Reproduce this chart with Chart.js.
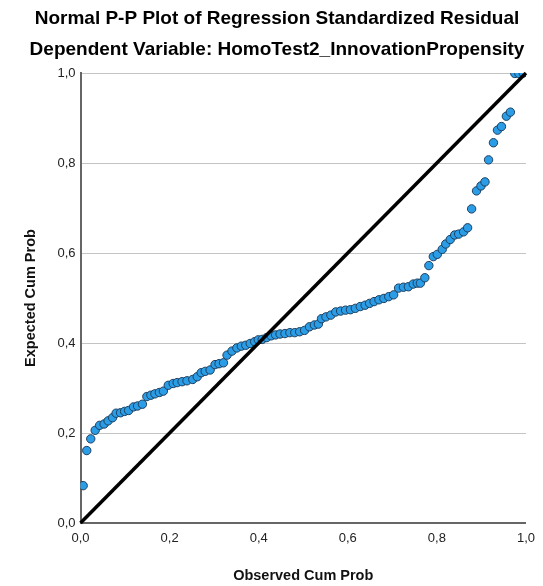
<!DOCTYPE html>
<html>
<head>
<meta charset="utf-8">
<script src="https://cdn.jsdelivr.net/npm/chart.js@4.4.1/dist/chart.umd.min.js"></script>
<style>
  html, body { margin: 0; padding: 0; background: #ffffff; }
  #wrap { position: relative; width: 543px; height: 586px; }
</style>
</head>
<body>
<div id="wrap"><canvas id="c" width="543" height="586"></canvas></div>
<script>
// ---- data ----
const chartTitle = "Normal P-P Plot of Regression Standardized Residual";
const chartSubtitle = "Dependent Variable: HomoTest2_InnovationPropensity";
const xAxisTitle = "Observed Cum Prob";
const yAxisTitle = "Expected Cum Prob";
const tickValues = [0, 0.2, 0.4, 0.6, 0.8, 1.0];
const tickLabels = ["0,0", "0,2", "0,4", "0,6", "0,8", "1,0"];

const observedCumProb = [
  0.006, 0.014, 0.023, 0.033, 0.043, 0.053, 0.062, 0.072, 0.080, 0.090,
  0.099, 0.108, 0.119, 0.128, 0.139, 0.149, 0.158, 0.167, 0.177, 0.186,
  0.197, 0.208, 0.217, 0.228, 0.239, 0.252, 0.262, 0.271, 0.280, 0.291,
  0.302, 0.311, 0.321, 0.329, 0.340, 0.351, 0.361, 0.371, 0.381, 0.391,
  0.399, 0.408, 0.418, 0.428, 0.438, 0.448, 0.459, 0.470, 0.481, 0.492,
  0.503, 0.514, 0.525, 0.534, 0.541, 0.551, 0.562, 0.573, 0.584, 0.595,
  0.606, 0.617, 0.628, 0.639, 0.649, 0.659, 0.670, 0.681, 0.692, 0.703,
  0.714, 0.725, 0.736, 0.747, 0.756, 0.763, 0.773, 0.782, 0.792, 0.801,
  0.812, 0.820, 0.830, 0.840, 0.849, 0.860, 0.869, 0.878, 0.889, 0.899,
  0.908, 0.916, 0.927, 0.936, 0.945, 0.956, 0.965, 0.975, 0.984, 0.994
];
const expectedCumProb = [
  0.083, 0.161, 0.187, 0.206, 0.217, 0.220, 0.227, 0.234, 0.244, 0.245,
  0.248, 0.250, 0.258, 0.260, 0.264, 0.281, 0.284, 0.287, 0.290, 0.293,
  0.306, 0.310, 0.312, 0.314, 0.316, 0.319, 0.325, 0.334, 0.337, 0.340,
  0.352, 0.354, 0.356, 0.373, 0.382, 0.389, 0.393, 0.395, 0.399, 0.403,
  0.407, 0.408, 0.412, 0.416, 0.418, 0.420, 0.421, 0.423, 0.423, 0.425,
  0.428, 0.436, 0.440, 0.442, 0.454, 0.458, 0.462, 0.469, 0.471, 0.473,
  0.474, 0.477, 0.481, 0.484, 0.488, 0.492, 0.496, 0.499, 0.503, 0.507,
  0.522, 0.524, 0.525, 0.531, 0.533, 0.533, 0.545, 0.572, 0.592, 0.597,
  0.608, 0.620, 0.630, 0.640, 0.642, 0.647, 0.656, 0.698, 0.738, 0.749,
  0.758, 0.807, 0.845, 0.873, 0.881, 0.904, 0.913, 0.999, 0.999, 1.000
];
const referenceLineX = [0, 1];
const referenceLineY = [0, 1];

// ---- build chart ----
const FONT = "'Liberation Sans', Arial, sans-serif";
const points = observedCumProb.map((x, i) => ({ x: x, y: expectedCumProb[i] }));
const refLine = referenceLineX.map((x, i) => ({ x: x, y: referenceLineY[i] }));

const titlePlugin = {
  id: 'twoLineTitle',
  afterDraw(chart) {
    const ctx = chart.ctx;
    ctx.save();
    ctx.fillStyle = '#000000';
    ctx.textAlign = 'center';
    ctx.textBaseline = 'middle';
    ctx.font = "bold 19px " + FONT;
    ctx.fillText(chartTitle, 277, 19);
    ctx.fillText(chartSubtitle, 277, 50);
    ctx.restore();
  }
};

new Chart(document.getElementById('c'), {
  type: 'scatter',
  data: {
    datasets: [
      {
        type: 'line',
        data: refLine,
        borderColor: '#000000',
        borderWidth: 3.5,
        pointRadius: 0,
        fill: false,
        order: 0,
        clip: 2
      },
      {
        data: points,
        backgroundColor: '#2b9de6',
        borderColor: '#1d3f5f',
        borderWidth: 1,
        pointRadius: 4.2,
        pointHoverRadius: 4.2,
        order: 1,
        clip: 0
      }
    ]
  },
  options: {
    responsive: false,
    animation: false,
    devicePixelRatio: 1,
    layout: { padding: { left: 0, right: 12.5, top: 73, bottom: 0 } },
    plugins: {
      legend: { display: false },
      tooltip: { enabled: false },
      title: { display: false }
    },
    scales: {
      x: {
        type: 'linear',
        min: 0, max: 1,
        afterBuildTicks(scale) { scale.ticks = tickValues.map(v => ({ value: v })); },
        afterFit(scale) { scale.height = 63; },
        ticks: {
          padding: 8,
          color: '#222222',
          font: { family: FONT, size: 13 },
          maxRotation: 0,
          callback: (v) => tickLabels[tickValues.findIndex(t => Math.abs(t - v) < 1e-9)]
        },
        grid: { display: false, drawTicks: false },
        border: { display: true, color: '#666666', width: 2 },
        title: {
          display: true,
          text: xAxisTitle,
          color: '#111111',
          font: { family: FONT, size: 14.5, weight: 'bold' },
          padding: { top: 0, bottom: 1 }
        }
      },
      y: {
        type: 'linear',
        min: 0, max: 1,
        afterBuildTicks(scale) { scale.ticks = tickValues.map(v => ({ value: v })); },
        afterFit(scale) { scale.width = 80.5; },
        ticks: {
          padding: 5,
          color: '#222222',
          font: { family: FONT, size: 13 },
          callback: (v) => tickLabels[tickValues.findIndex(t => Math.abs(t - v) < 1e-9)]
        },
        grid: { display: true, drawTicks: false, color: '#c4c4c4', lineWidth: 1 },
        border: { display: true, color: '#666666', width: 2 },
        title: {
          display: true,
          text: yAxisTitle,
          color: '#111111',
          font: { family: FONT, size: 14.5, weight: 'bold' },
          padding: { top: 22, bottom: 0 }
        }
      }
    }
  },
  plugins: [titlePlugin]
});
</script>
</body>
</html>
